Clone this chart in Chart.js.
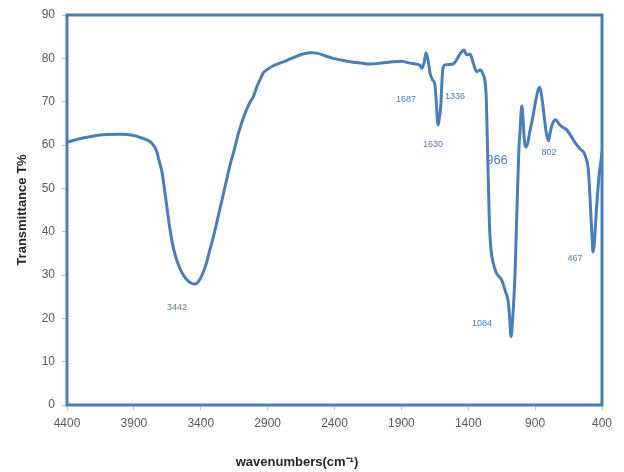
<!DOCTYPE html>
<html><head><meta charset="utf-8">
<script src="https://cdn.jsdelivr.net/npm/chart.js@4/dist/chart.umd.min.js"></script>
<style>html,body{margin:0;padding:0;background:#fff}#wrap{width:624px;height:472px}</style>
</head><body><div id="wrap"><canvas id="c" width="624" height="472"></canvas></div>
<script>
const wavenumbers = [4400,4300,4200,4100,4000,3900,3840,3780,3750,3730,3710,3690,3670,3650,3630,3610,3590,3560,3530,3500,3470,3442,3420,3390,3360,3330,3300,3270,3240,3210,3180,3150,3120,3090,3060,3030,3009,2980,2950,2934,2900,2850,2807,2750,2700,2636,2580,2533,2470,2411,2350,2284,2200,2135,2050,1960,1900,1836,1780,1761,1748,1730,1716,1700,1686,1666,1651,1640,1630,1624,1615,1606,1591,1574,1540,1512,1490,1474,1449,1432,1412,1387,1362,1337,1312,1292,1267,1258,1250,1242,1232,1215,1190,1150,1120,1103,1090,1080,1070,1060,1050,1040,1030,1020,1013,1000,990,980,970,955,940,920,900,880,865,850,830,815,800,790,775,760,746,720,690,664,630,600,560,535,520,505,495,485,475,467,458,448,435,420,405,400];
const transmittance = [60.6,61.5,62.1,62.4,62.5,62.2,61.6,60.8,59.8,58.6,56.2,53.8,49.5,45,40.5,37,34.5,31.8,30,28.8,28.1,27.9,28.4,30,32.5,36,39.5,43.5,47.5,51.5,55.5,58.8,62.5,65.5,68,70,71,73.5,75.5,76.6,77.5,78.4,78.9,79.6,80.3,81,81.3,81.2,80.6,80,79.6,79.2,78.9,78.7,78.9,79.2,79.3,78.9,78.6,78.4,77.7,79,81.3,79.5,76.6,75,74.2,70.5,65.5,64.6,66.5,68.8,77.3,78.5,78.6,78.7,79.5,80.4,81.5,81.9,80.8,81,78.9,76.9,77.3,76.5,72,62,52,42,36.5,33,30.5,28.8,26,24.2,20,15.8,19,24,30.5,41,51,60,63,69,66,61,59.5,60.5,63,66,69.5,72.5,73.3,71,66,62.5,61,62.5,64.5,65.5,65.8,64.8,64,63.5,62,60.5,59,58.2,57,55,51,45,39,35.3,37,42,48,53.5,57,58.5];
const xTicks = [4400,3900,3400,2900,2400,1900,1400,900,400];
const yTicks = [0,10,20,30,40,50,60,70,80,90];
const peakLabels = ['3442','1687','1630','1336','966','1084','802','467'];
const peakLabelX = [3578,1865,1664,1499,1185,1297,796,602];
const peakLabelY = [22.4,70.4,60,71.1,56.5,18.9,58.2,33.9];

const BLUE = '#4a7ebb';
const TICKC = '#595959';
const FONT = '"Liberation Sans", Arial, sans-serif';

const frame = {
  id: 'frame',
  afterDatasetsDraw(chart) {
    const {ctx, chartArea: a} = chart;
    ctx.save();
    ctx.strokeStyle = BLUE;
    ctx.lineWidth = 3;
    ctx.strokeRect(a.left, a.top, a.right - a.left, a.bottom - a.top);
    ctx.restore();
  }
};
const peaks = {
  id: 'peaks',
  afterDraw(chart) {
    const {ctx, scales: {x, y}} = chart;
    ctx.save();
    ctx.fillStyle = BLUE;
    ctx.textAlign = 'center';
    ctx.textBaseline = 'middle';
    peakLabels.forEach((t, i) => {
      ctx.font = (t === '966' ? '13px ' : '9px ') + FONT;
      ctx.fillText(t, x.getPixelForValue(peakLabelX[i]), y.getPixelForValue(peakLabelY[i]));
    });
    ctx.font = 'bold 13px ' + FONT;
    ctx.fillStyle = '#262626';
    ctx.fillText('wavenumbers(cm\u207B\u00B9)', 297, 462);
    ctx.restore();
  }
};

new Chart(document.getElementById('c'), {
  type: 'line',
  data: {
    datasets: [{
      data: wavenumbers.map((w, i) => ({x: w, y: transmittance[i]})),
      borderColor: BLUE,
      borderWidth: 3,
      pointRadius: 0,
      fill: false,
      cubicInterpolationMode: 'monotone'
    }]
  },
  options: {
    responsive: false,
    animation: false,
    layout: {padding: {left: 0, top: 15, right: 22, bottom: 0}},
    plugins: {legend: {display: false}, tooltip: {enabled: false}},
    scales: {
      x: {
        type: 'linear', reverse: true, min: 400, max: 4400,
        afterBuildTicks(s) { s.ticks = xTicks.map(v => ({value: v})); },
        afterFit(s) { s.height = 67; },
        grid: {drawOnChartArea: false, color: '#bfbfbf', tickLength: 5},
        border: {display: false},
        ticks: {color: TICKC, padding: 6, maxRotation: 0, autoSkip: false,
          callback: v => String(v),
          font: {family: FONT, size: 12}}
      },
      y: {
        min: 0, max: 90,
        afterBuildTicks(s) { s.ticks = yTicks.map(v => ({value: v})); },
        afterFit(s) { s.width = 67; },
        grid: {drawOnChartArea: false, color: '#bfbfbf', tickLength: 5},
        border: {display: false},
        ticks: {color: TICKC, padding: 7, callback: v => String(v),
          font: {family: FONT, size: 12}},
        title: {display: true, text: 'Transmittance T%', color: '#262626',
          padding: {top: 15, bottom: 0},
          font: {family: FONT, size: 13, weight: 'bold'}}
      }
    }
  },
  plugins: [frame, peaks]
});
</script>
</body></html>
